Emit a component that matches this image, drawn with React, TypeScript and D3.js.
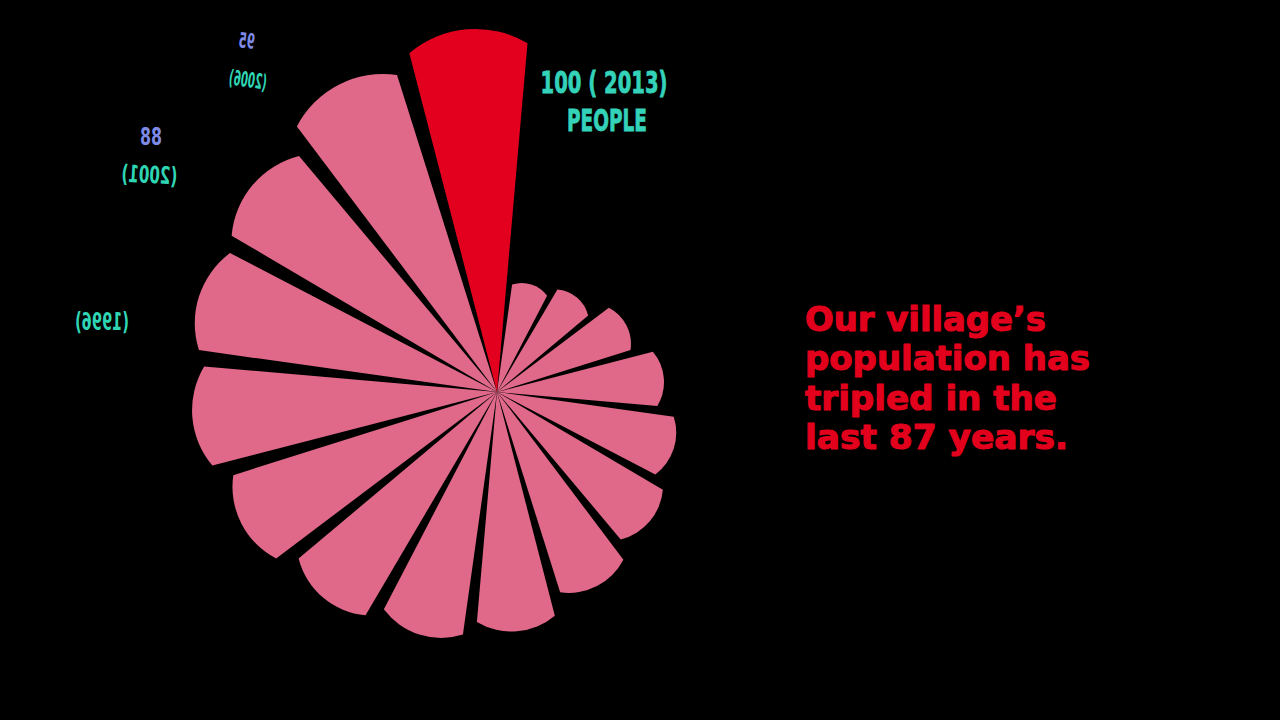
import React, {useMemo} from 'react';
import * as d3 from 'd3';

// population per census year, oldest first (clockwise from ~12 o'clock)
const years = [1926, 1936, 1946, 1951, 1956, 1961, 1966, 1971, 1976, 1981, 1986, 1991, 1996, 2001, 2006, 2013];
const people = [31, 34, 40, 46, 51, 55, 60, 66, 70, 74, 79, 84, 86, 88, 95, 100];
const highlightYear = 2013;

const headline = ["Our village\u2019s", "population has", "tripled in the", "last 87 years."];
const headlineWidths = [242, 286, 253, 264];

// mirrored annotations as seen in the frame
const mirrorLabels = [
  {text: '95', x: 246, y: 48, size: 21, width: 16, color: '#7d8ae6', rot: 6},
  {text: '(2006)', x: 247, y: 87, size: 21, width: 38, color: '#2fd6b4', rot: 8},
  {text: '88', x: 151, y: 145, size: 25, width: 22, color: '#7d8ae6', rot: 0},
  {text: '(2001)', x: 149, y: 183, size: 24, width: 56, color: '#2fd6b4', rot: 3},
  {text: '(1996)', x: 102, y: 330, size: 24, width: 54, color: '#2fd6b4', rot: 0},
];

const W = 1280;
const H = 720;
const cx = 497;
const cy = 392;
const condensed = "'Liberation Sans Narrow', 'DejaVu Sans Condensed', 'Roboto', sans-serif";

const deg = (d: number) => d * Math.PI / 180;

// wedge with straight sides and a bulging outer end
const petal = (a0: number, a1: number, r: number) => {
  const x0 = r * Math.sin(a0), y0 = -r * Math.cos(a0);
  const x1 = r * Math.sin(a1), y1 = -r * Math.cos(a1);
  const c = 2 * r * Math.sin((a1 - a0) / 2);
  const s = 0.16 * c;
  const R = (c * c / 4 + s * s) / (2 * s);
  return `M0,0L${x0},${y0}A${R},${R} 0 0 1 ${x1},${y1}Z`;
};

const PolarBars: React.FC = () => {
  const angle = useMemo(() => d3.scaleBand<number>()
      .domain(years)
      .range([deg(6.5), deg(366.5)])
      .paddingInner(3 / 22.5)
      .paddingOuter(1.5 / 22.5), []);

  const radius = useMemo(() => d3.scaleLinear().domain([0, 100]).range([0, 350]), []);

  return (
      <g transform={`translate(${cx}, ${cy})`}>
        {years.map((yr, i) => {
          const start = angle(yr) as number;
          return (
              <path key={yr}
                    d={petal(start, start + angle.bandwidth(), radius(people[i]))}
                    fill={yr === highlightYear ? '#e2001e' : '#e0698a'}/>
          );
        })}
      </g>
  );
};

export default function App() {
  return (
      <svg width={W} height={H} style={{position: 'absolute', left: 0, top: 0, background: '#000'}}>
        <rect width={W} height={H} fill="#000"/>
        <PolarBars/>

        {/* headline value label */}
        <g fontFamily={condensed} fontWeight="bold" fill="#33d2b9" stroke="#33d2b9" strokeWidth={0.8}
           textAnchor="middle">
          <text x={604} y={93} fontSize={31} textLength={127} lengthAdjust="spacingAndGlyphs">100 ( 2013)</text>
          <text x={607} y={131} fontSize={31} textLength={80} lengthAdjust="spacingAndGlyphs">PEOPLE</text>
        </g>

        {mirrorLabels.map(l => (
            <text key={l.text}
                  transform={`translate(${l.x}, ${l.y}) scale(-1, 1) rotate(${-l.rot})`}
                  textAnchor="middle"
                  fontFamily={condensed} fontWeight="bold" fontSize={l.size} fill={l.color}
                  textLength={l.width} lengthAdjust="spacingAndGlyphs">
              {l.text}
            </text>
        ))}

        <g fontFamily={condensed} fontWeight="bold" fill="#e3001c" stroke="#e3001c" strokeWidth={1}
           strokeLinejoin="round" fontSize={34}>
          {headline.map((line, i) => (
              <text key={line} x={805} y={331 + i * 39.4}
                    textLength={headlineWidths[i] - 1} lengthAdjust="spacingAndGlyphs">
                {line}
              </text>
          ))}
        </g>
      </svg>
  );
}
